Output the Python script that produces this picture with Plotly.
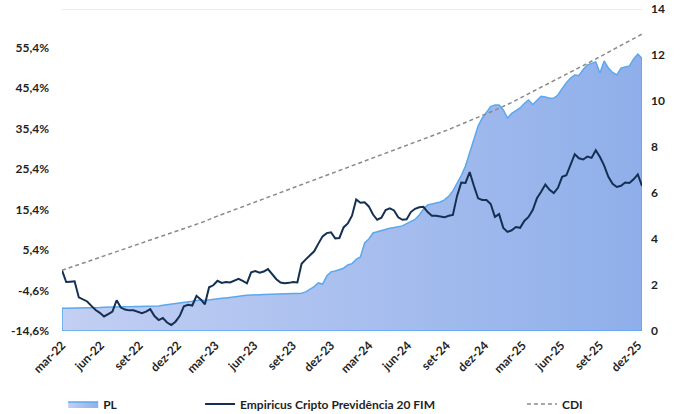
import pandas as pd
import plotly.graph_objects as go

# ---- data ----
dates = pd.date_range("2022-03-01", periods=139, freq="10D")

fund = [0.4, -2.5, -2.4, -2.3, -6.3, -6.9, -7.3, -8.4, -9.4, -10.1,
        -11.0, -10.4, -9.8, -7.0, -8.8, -9.3, -9.5, -9.5, -9.8, -10.2,
        -9.8, -9.2, -10.9, -11.9, -11.4, -12.5, -13.1, -12.3, -10.9, -8.5,
        -8.1, -8.3, -5.9, -6.8, -8.0, -3.8, -3.3, -2.2, -2.7, -2.5,
        -2.6, -2.2, -1.7, -2.2, -2.8, -0.1, 0.2, -0.2, 0.1, 0.7,
        -0.7, -1.8, -2.6, -2.8, -2.7, -2.5, -2.6, 2.0, 3.1, 4.1,
        5.1, 7.0, 8.8, 9.6, 9.8, 8.3, 8.4, 11.0, 12.0, 13.9,
        17.9, 17.1, 17.2, 16.2, 14.2, 12.9, 13.4, 15.3, 15.7, 15.2,
        13.5, 12.9, 13.0, 14.8, 15.6, 16.0, 16.1, 14.8, 13.9, 13.9,
        13.7, 13.5, 13.9, 14.1, 18.8, 22.1, 22.0, 24.7, 21.3, 18.2,
        17.8, 17.8, 16.8, 13.6, 14.3, 10.9, 9.9, 10.3, 11.1, 10.9,
        12.6, 13.6, 15.3, 18.2, 19.8, 21.6, 20.3, 19.5, 20.8, 23.5,
        23.9, 26.3, 29.1, 28.1, 27.8, 28.5, 28.2, 30.1, 28.4, 26.3,
        23.5, 21.8, 21.0, 21.3, 22.1, 22.0, 22.9, 24.1, 21.3]

pl = [0.99, 0.99, 0.99, 1.00, 1.00, 1.00, 1.01, 1.01, 1.02, 1.02,
      1.03, 1.03, 1.03, 1.04, 1.04, 1.04, 1.05, 1.06, 1.07, 1.07,
      1.08, 1.09, 1.08, 1.09, 1.12, 1.14, 1.17, 1.20, 1.22, 1.23,
      1.26, 1.29, 1.33, 1.35, 1.33, 1.36, 1.38, 1.40, 1.42, 1.44,
      1.47, 1.49, 1.51, 1.53, 1.55, 1.57, 1.57, 1.58, 1.59, 1.60,
      1.60, 1.61, 1.61, 1.62, 1.63, 1.63, 1.63, 1.64, 1.70, 1.80,
      1.93, 2.09, 2.04, 2.39, 2.57, 2.61, 2.67, 2.73, 2.87, 2.93,
      3.11, 3.22, 3.83, 4.00, 4.26, 4.32, 4.37, 4.41, 4.47, 4.50,
      4.53, 4.57, 4.67, 4.76, 4.85, 5.04, 5.30, 5.48, 5.53, 5.57,
      5.61, 5.70, 5.85, 6.09, 6.43, 6.76, 7.17, 7.78, 8.39, 8.91,
      9.26, 9.52, 9.76, 9.83, 9.83, 9.61, 9.26, 9.46, 9.57, 9.70,
      9.89, 10.04, 9.85, 10.04, 10.20, 10.17, 10.12, 10.13, 10.26, 10.54,
      10.80, 11.00, 11.13, 11.11, 11.37, 11.57, 11.63, 11.70, 11.22, 11.74,
      11.43, 11.24, 11.13, 11.43, 11.48, 11.52, 11.83, 12.04, 11.85]

cdi_dates = list(pd.date_range("2022-03-01", "2025-12-01", freq="MS")) + [dates[-1]]
cdi = [0.4, 1.5, 2.6, 3.7, 4.8, 5.9, 6.9, 8.0, 9.1, 10.2,
       11.3, 12.4, 13.6, 14.8, 15.9, 17.1, 18.3, 19.5, 20.7, 21.8,
       23.0, 24.2, 25.4, 26.6, 27.8, 29.0, 30.2, 31.4, 32.6, 33.8,
       35.0, 36.3, 37.6, 38.9, 40.3, 41.8, 43.3, 44.8, 46.4, 48.1,
       49.8, 51.5, 53.2, 54.9, 56.6, 58.2, 58.8]

tick_dates = pd.date_range("2022-03-01", "2025-12-01", freq="3MS")
tick_text = ["mar-22", "jun-22", "set-22", "dez-22", "mar-23", "jun-23", "set-23", "dez-23",
             "mar-24", "jun-24", "set-24", "dez-24", "mar-25", "jun-25", "set-25", "dez-25"]

left_ticks = [-14.6, -4.6, 5.4, 15.4, 25.4, 35.4, 45.4, 55.4]
left_text = ["-14,6%", "-4,6%", "5,4%", "15,4%", "25,4%", "35,4%", "45,4%", "55,4%"]

# ---- figure ----
FONT = dict(family="Lato, Liberation Sans, sans-serif", size=12, color="#1f1f1f", weight="bold")

fig = go.Figure()

px_x = [dates[0]] + list(dates) + [dates[-1], dates[0]]
px_y = [0] + pl + [0, 0]
fig.add_trace(go.Scatter(
    x=px_x, y=px_y, name="PL", mode="lines", fill="toself",
    line=dict(color="#5aa8ee", width=1.5),
    fillgradient=dict(type="horizontal", colorscale=[[0, "#c3cff3"], [1, "#8fafea"]]),
    fillcolor="#a9bff0",
    yaxis="y", legend="legend", hoverinfo="skip"))

fig.add_trace(go.Scatter(
    x=list(dates), y=fund, name="Empiricus Cripto Previdência 20 FIM", mode="lines",
    line=dict(color="#132f52", width=2),
    yaxis="y2", legend="legend2"))

fig.add_trace(go.Scatter(
    x=cdi_dates, y=cdi, name="CDI", mode="lines",
    line=dict(color="#8a8a8a", width=1.5, dash="4px,3px"),
    yaxis="y2", legend="legend3"))

start, end = dates[0], dates[-1]

leg_common = dict(orientation="h", yanchor="middle", y=-0.227, xanchor="left",
                  font=FONT, bgcolor="rgba(0,0,0,0)", itemwidth=30)

fig.update_layout(
    width=680, height=414, autosize=False,
    margin=dict(l=62, r=38, t=9, b=83, pad=0, autoexpand=False),
    paper_bgcolor="white", plot_bgcolor="white",
    font=FONT,
    xaxis=dict(type="date", range=[start, end], tickvals=list(tick_dates), ticktext=tick_text,
               tickangle=-45, showgrid=False, zeroline=False, showline=False, ticks="",
               tickfont=FONT, automargin=False, ticklabelstandoff=4),
    yaxis=dict(range=[0, 14], side="right", dtick=2, showgrid=False, zeroline=False,
               showline=False, ticks="", tickfont=FONT, automargin=False,
               ticklabelstandoff=8),
    yaxis2=dict(range=[-14.6, 65], overlaying="y", side="left", tickvals=left_ticks,
                ticktext=left_text, showgrid=False, zeroline=False, showline=False,
                ticks="", tickfont=FONT, automargin=False, ticklabelstandoff=12),
    legend=dict(x=0.002, **leg_common),
    legend2=dict(x=0.238, **leg_common),
    legend3=dict(x=0.793, **leg_common),
    shapes=[dict(type="line", xref="paper", x0=0, x1=1, yref="y", y0=14, y1=14,
                 line=dict(color="#d9d9d9", width=1), layer="below")],
    showlegend=True,
)

fig.write_html("out.html", config={"displayModeBar": False},
               post_script="document.body.style.margin='0';")
